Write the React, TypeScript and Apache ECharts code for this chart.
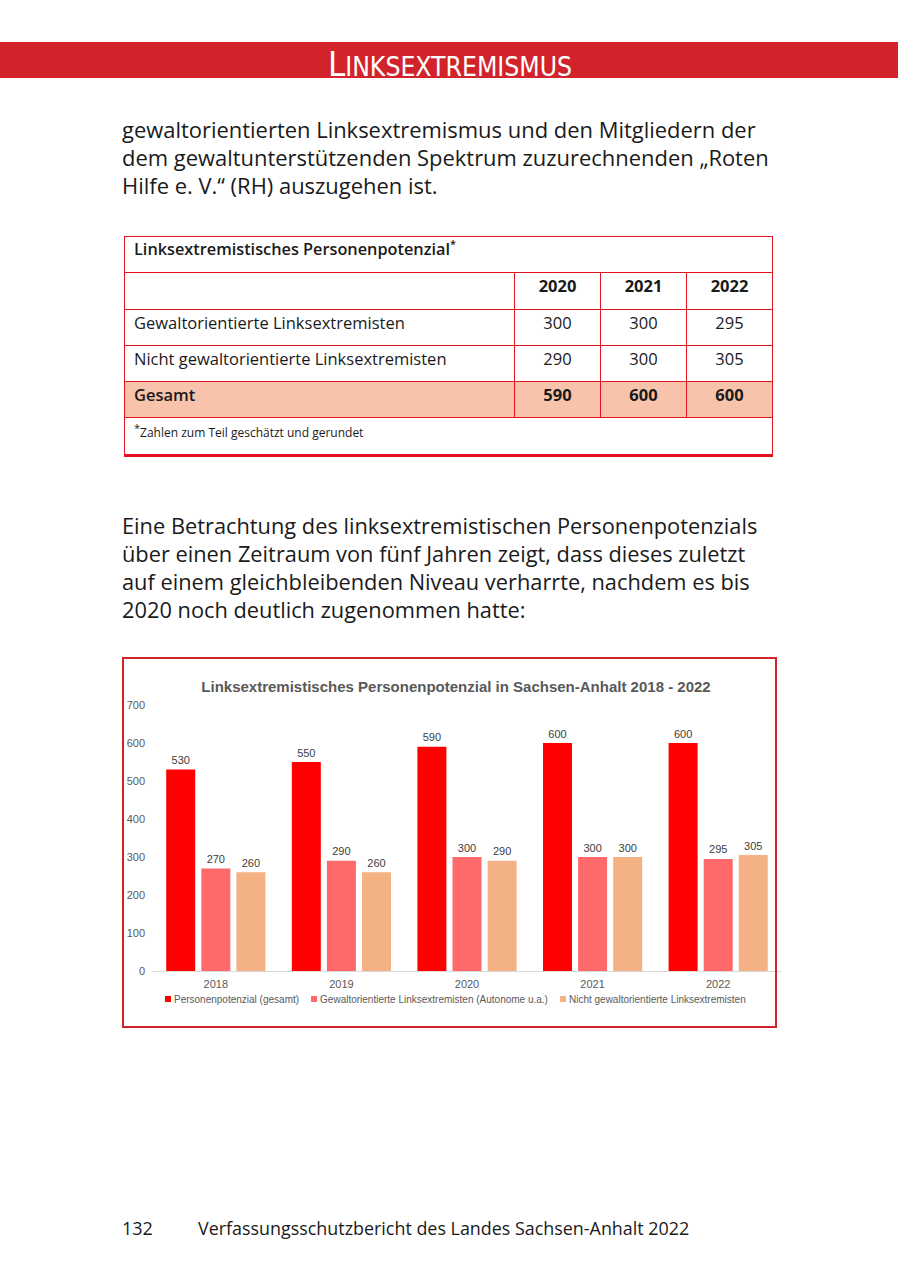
import React, { useEffect, useRef } from "react";
import * as echarts from "echarts";

// ---- Chart data ----
const categories = ["2018", "2019", "2020", "2021", "2022"];
const seriesNames = [
  "Personenpotenzial (gesamt)",
  "Gewaltorientierte Linksextremisten (Autonome u.a.)",
  "Nicht gewaltorientierte Linksextremisten",
];
const gesamt = [530, 550, 590, 600, 600];
const gewaltorientiert = [270, 290, 300, 300, 295];
const nichtGewaltorientiert = [260, 260, 290, 300, 305];
const yTicks = [0, 100, 200, 300, 400, 500, 600, 700];

// ---- Table data ----
const tableYears = ["2020", "2021", "2022"];
const tableRowLabels = [
  "Gewaltorientierte Linksextremisten",
  "Nicht gewaltorientierte Linksextremisten",
];
const tableGewalt = [300, 300, 295];
const tableNicht = [290, 300, 305];
const tableGesamt = [590, 600, 600];

const RED = "#d2232a";
const TBL_RED = "#e2141f";
const BODY_FONT = "'Open Sans', 'Noto Sans', sans-serif";
const CHART_FONT = "'Liberation Sans', Arial, sans-serif";

function Chart() {
  const ref = useRef<HTMLDivElement>(null);
  useEffect(() => {
    if (!ref.current) return;
    const chart = echarts.init(ref.current, null, { renderer: "svg" });
    const labelCommon = {
      show: true,
      position: "top" as const,
      distance: 4,
      color: "#404040",
      fontSize: 11,
      fontFamily: CHART_FONT,
    };
    chart.setOption({
      animation: false,
      title: {
        text: "Linksextremistisches Personenpotenzial in Sachsen-Anhalt 2018 - 2022",
        left: 456,
        top: 39,
        textAlign: "center",
        padding: 0,
        textStyle: {
          color: "#595959",
          fontSize: 15,
          fontWeight: "bold",
          fontFamily: CHART_FONT,
        },
      },
      legend: {
        data: seriesNames,
        left: 165,
        top: 354,
        padding: 0,
        itemWidth: 6,
        itemHeight: 6,
        itemGap: 12,
        icon: "rect",
        textStyle: {
          color: "#595959",
          fontSize: 10,
          padding: [0, 0, 0, -2],
          fontFamily: CHART_FONT,
        },
      },
      grid: { left: 153, right: 119, top: 65, bottom: 69 },
      xAxis: {
        type: "category",
        data: categories,
        axisLine: { show: true, lineStyle: { color: "#d9d9d9", width: 1 } },
        axisTick: { show: false },
        axisLabel: {
          color: "#595959",
          fontSize: 11,
          margin: 7,
          fontFamily: CHART_FONT,
        },
      },
      yAxis: {
        type: "value",
        min: yTicks[0],
        max: yTicks[yTicks.length - 1],
        interval: 100,
        axisLine: { show: false },
        axisTick: { show: false },
        splitLine: { show: false },
        axisLabel: {
          color: "#595959",
          fontSize: 11,
          margin: 8,
          fontFamily: CHART_FONT,
        },
      },
      series: [
        {
          name: seriesNames[0],
          type: "bar",
          data: gesamt,
          barWidth: 29,
          barGap: "21%",
          itemStyle: { color: "#ff0000" },
          label: labelCommon,
        },
        {
          name: seriesNames[1],
          type: "bar",
          data: gewaltorientiert,
          barWidth: 29,
          barGap: "21%",
          itemStyle: { color: "#ff6969" },
          label: labelCommon,
        },
        {
          name: seriesNames[2],
          type: "bar",
          data: nichtGewaltorientiert,
          barWidth: 29,
          barGap: "21%",
          itemStyle: { color: "#f4b183" },
          label: labelCommon,
        },
      ],
    });
    return () => chart.dispose();
  }, []);
  return (
    <div
      ref={ref}
      style={{ position: "absolute", left: 0, top: 640, width: 900, height: 400 }}
    />
  );
}

const cell: React.CSSProperties = {
  border: `1.5px solid ${TBL_RED}`,
  padding: 0,
  paddingBottom: 11,
  fontFamily: BODY_FONT,
  fontSize: 16.5,
  color: "#1a1a1a",
};

export default function App() {
  const colW = [390, 86, 86, 86];
  return (
    <div
      style={{
        position: "absolute",
        left: 0,
        top: 0,
        width: 900,
        height: 1276,
        background: "#fff",
        overflow: "hidden",
        fontFamily: BODY_FONT,
        color: "#1a1a1a",
      }}
    >
      {/* Header band */}
      <div
        style={{
          position: "absolute",
          left: 0,
          top: 42,
          width: 898,
          height: 36,
          background: RED,
        }}
      />
      <div
        style={{
          position: "absolute",
          left: 0,
          top: 42,
          width: 900,
          height: 36,
          textAlign: "center",
          color: "#fff",
          fontFamily: "'Liberation Sans Narrow', 'DejaVu Sans Condensed', sans-serif",
          whiteSpace: "nowrap",
        }}
      >
        <span
          style={{
            position: "absolute",
            left: 0,
            right: 0,
            top: 5,
            lineHeight: "34px",
            fontSize: 34.5,
          }}
        >
          L<span style={{ fontSize: 26.3 }}>INKSEXTREMISMUS</span>
        </span>
      </div>

      {/* Paragraph 1 */}
      <div
        style={{
          position: "absolute",
          left: 122,
          top: 116,
          fontSize: 21.95,
          lineHeight: "28px",
          whiteSpace: "nowrap",
        }}
      >
        gewaltorientierten Linksextremismus und den Mitgliedern der
        <br />
        dem gewaltunterstützenden Spektrum zuzurechnenden „Roten
        <br />
        Hilfe e. V.“ (RH) auszugehen ist.
      </div>

      {/* Table */}
      <table
        style={{
          position: "absolute",
          left: 124,
          top: 236,
          borderCollapse: "collapse",
          tableLayout: "fixed",
          width: 648,
        }}
      >
        <colgroup>
          {colW.map((w, i) => (
            <col key={i} style={{ width: w }} />
          ))}
        </colgroup>
        <tbody>
          <tr style={{ height: 36 }}>
            <td colSpan={4} style={{ ...cell, paddingLeft: 9, fontWeight: 600, fontSize: 16.3 }}>
              Linksextremistisches Personenpotenzial
              <sup style={{ fontSize: 11, verticalAlign: "7px", lineHeight: 0 }}>*</sup>
            </td>
          </tr>
          <tr style={{ height: 37 }}>
            <td style={cell}></td>
            {tableYears.map((y) => (
              <td key={y} style={{ ...cell, textAlign: "center", fontWeight: 700 }}>
                {y}
              </td>
            ))}
          </tr>
          <tr style={{ height: 36 }}>
            <td style={{ ...cell, paddingLeft: 9 }}>{tableRowLabels[0]}</td>
            {tableGewalt.map((v, i) => (
              <td key={i} style={{ ...cell, textAlign: "center" }}>
                {v}
              </td>
            ))}
          </tr>
          <tr style={{ height: 36 }}>
            <td style={{ ...cell, paddingLeft: 9 }}>{tableRowLabels[1]}</td>
            {tableNicht.map((v, i) => (
              <td key={i} style={{ ...cell, textAlign: "center" }}>
                {v}
              </td>
            ))}
          </tr>
          <tr style={{ height: 36, background: "#f8c3ab" }}>
            <td style={{ ...cell, paddingLeft: 9, fontWeight: 600 }}>Gesamt</td>
            {tableGesamt.map((v, i) => (
              <td key={i} style={{ ...cell, textAlign: "center", fontWeight: 700 }}>
                {v}
              </td>
            ))}
          </tr>
          <tr style={{ height: 38 }}>
            <td
              colSpan={4}
              style={{
                ...cell,
                paddingLeft: 9,
                paddingBottom: 8,
                fontSize: 12,
                borderBottom: `3px solid ${TBL_RED}`,
              }}
            >
              <sup style={{ fontSize: 11, verticalAlign: "5px", lineHeight: 0 }}>*</sup>
              Zahlen zum Teil geschätzt und gerundet
            </td>
          </tr>
        </tbody>
      </table>

      {/* Paragraph 2 */}
      <div
        style={{
          position: "absolute",
          left: 122,
          top: 512,
          fontSize: 21.8,
          lineHeight: "28px",
          whiteSpace: "nowrap",
        }}
      >
        Eine Betrachtung des linksextremistischen Personenpotenzials
        <br />
        über einen Zeitraum von fünf Jahren zeigt, dass dieses zuletzt
        <br />
        auf einem gleichbleibenden Niveau verharrte, nachdem es bis
        <br />
        2020 noch deutlich zugenommen hatte:
      </div>

      {/* Chart */}
      <Chart />
      <div
        style={{
          position: "absolute",
          left: 122,
          top: 657,
          width: 651,
          height: 367,
          border: `2px solid ${RED}`,
          pointerEvents: "none",
        }}
      />

      {/* Footer */}
      <div
        style={{
          position: "absolute",
          left: 122,
          top: 1214,
          fontSize: 18,
          lineHeight: "28px",
          whiteSpace: "nowrap",
        }}
      >
        132
      </div>
      <div
        style={{
          position: "absolute",
          left: 198,
          top: 1214,
          fontSize: 17.9,
          lineHeight: "28px",
          whiteSpace: "nowrap",
        }}
      >
        Verfassungsschutzbericht des Landes Sachsen-Anhalt 2022
      </div>
    </div>
  );
}
